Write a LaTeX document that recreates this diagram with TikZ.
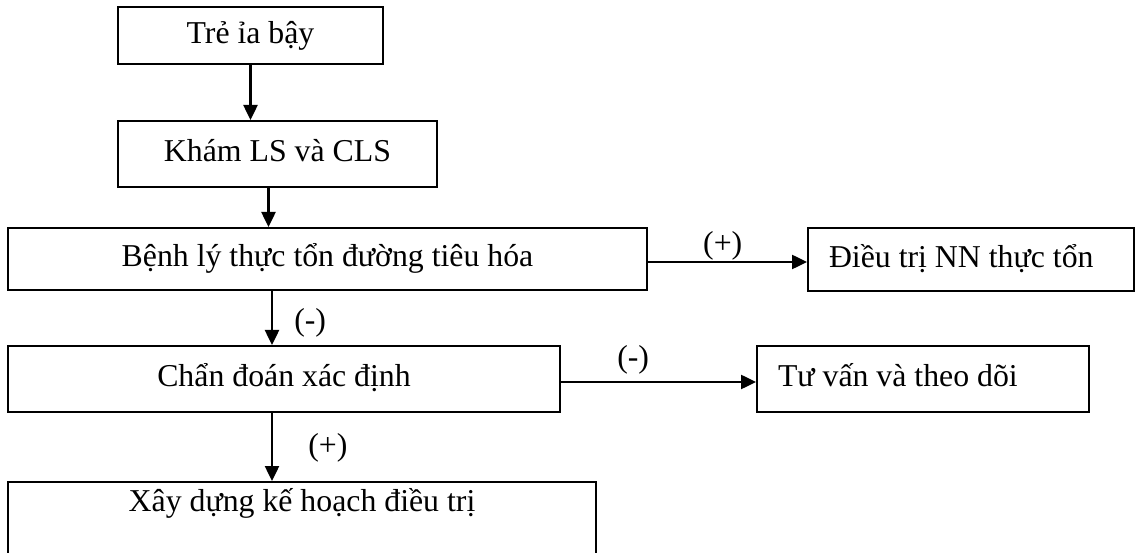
\documentclass[tikz,border=0pt]{standalone}
\usepackage{fontspec}
\setmainfont{Liberation Serif}
\usetikzlibrary{calc,arrows.meta}

\begin{document}
\begin{tikzpicture}[x=1pt,y=-1pt,
  box/.style={draw,line width=2pt,text height=24pt,text depth=8pt,font=\fontsize{31.8}{38}\selectfont},
  leftbox/.style={box,inner xsep=21pt,text width=#1,align=flush left},
  lab/.style={inner sep=0pt,font=\fontsize{31.8}{38}\selectfont},
  arr/.style={line width=2.5pt,-{Triangle[length=15pt,width=14pt]}}]
\useasboundingbox (0,0) rectangle (1136,553);
\clip (0,0) rectangle (1136,553);

\node[box,minimum width=265pt,minimum height=57pt] (tre) at (250.5,35.5) {Trẻ ỉa bậy};
\node[box,minimum width=319pt,minimum height=66pt] (kham) at (277.5,154) {Khám LS và CLS};
\node[box,minimum width=639pt,minimum height=62pt] (benhly) at (327.5,259) {Bệnh lý thực tổn đường tiêu hóa};
\node[leftbox=284pt,minimum height=63pt] (dieutri) at (971,259.5) {Điều trị NN thực tổn};
\node[box,minimum width=552pt,minimum height=66pt] (chandoan) at (284,379) {Chẩn đoán xác định};
\node[leftbox=290pt,minimum height=66pt] (tuvan) at (923,379) {Tư vấn và theo dõi};
\node[box,anchor=north,minimum width=588pt,inner ysep=0pt,text height=29pt,text depth=100pt] (xaydung) at (302,481) {Xây dựng kế hoạch điều trị};

\draw[arr] (tre.south) -- (tre.south |- kham.north);
\coordinate (v2) at ($(kham.south)+(-9,0)$);
\draw[arr] (v2) -- (v2 |- benhly.north);
\coordinate (v3) at ($(benhly.south)+(-55.5,0)$);
\draw[arr] (v3) -- (v3 |- chandoan.north) node[lab,pos=0.59,right=21pt] {(-)};
\draw[arr] (v3 |- chandoan.south) -- (v3 |- xaydung.north) node[lab,pos=0.51,right=35pt] {(+)};

\coordinate (h1) at ($(benhly.east)+(0,3)$);
\draw[arr] (h1) -- (h1 -| dieutri.west) node[lab,pos=0.47,above] {(+)};
\coordinate (h2) at ($(chandoan.east)+(0,3)$);
\draw[arr] (h2) -- (h2 -| tuvan.west) node[lab,pos=0.37,above=6pt] {(-)};
\end{tikzpicture}
\end{document}
